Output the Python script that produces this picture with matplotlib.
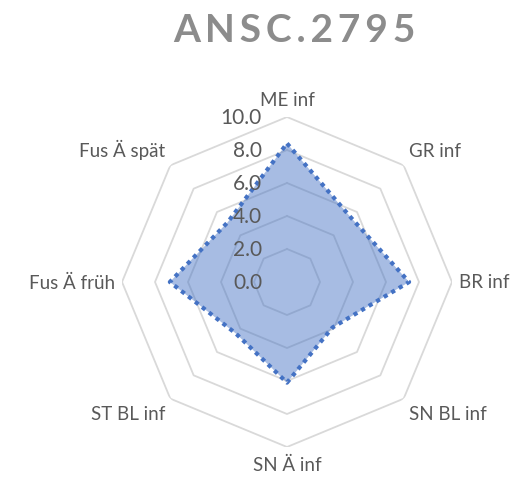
import numpy as np
import matplotlib
matplotlib.use("Agg")
from matplotlib import pyplot as plt
from matplotlib.transforms import ScaledTranslation

# radar values (0..10 scale)
categories = ["ME inf", "GR inf", "BR inf", "SN BL inf",
              "SN Ä inf", "ST BL inf", "Fus Ä früh", "Fus Ä spät"]
values = [8.4, 5.5, 7.4, 3.9, 6.1, 4.4, 7.1, 5.1]
ring_levels = [2, 4, 6, 8, 10]
tick_values = [0, 2, 4, 6, 8, 10]
tick_labels = ["0.0", "2.0", "4.0", "6.0", "8.0", "10.0"]
title = "ANSC.2795"

plt.rcParams['font.family'] = ['Lato', 'DejaVu Sans']
text_col = "#595959"
blue = "#4472C4"

fig = plt.figure(figsize=(5.22, 4.81), dpi=100)

# center of the radar at (287, 283) px, radius 165 px
cx, cy, rad = 287 / 522, 1 - 283 / 481, 165.0
w, h = rad / 522, rad / 481
ax = fig.add_axes([cx - w, cy - h, 2 * w, 2 * h], projection='polar')
ax.set_theta_offset(np.pi / 2)
ax.set_theta_direction(-1)
ax.set_ylim(0, 10)
ax.grid(False)
ax.spines['polar'].set_visible(False)
ax.set_xticks([])
ax.set_yticks([])
ax.patch.set_alpha(0)

n = len(categories)
theta = np.linspace(0, 2 * np.pi, n, endpoint=False)
theta_c = np.append(theta, theta[0])

# octagon grid rings
for lvl in ring_levels:
    ax.plot(theta_c, [lvl] * (n + 1), color="#d9d9d9", lw=1.3, zorder=1)

# data
vals_c = values + values[:1]
ax.fill(theta_c, vals_c, color=blue, alpha=0.47, lw=0, zorder=2)
ax.plot(theta_c, vals_c, color=blue, lw=3.0, linestyle=(0, (1, 1.1)),
        dash_capstyle='butt', zorder=3)

# radial tick labels, left of the vertical axis
for v, lab in zip(tick_values, tick_labels):
    ax.text(0, v, lab, ha='right', va='center', fontsize=15, color=text_col,
            transform=ax.transData + ScaledTranslation(-25 / 100, 0, fig.dpi_scale_trans),
            zorder=4)

# category labels around the outside
for t, lab in zip(theta, categories):
    dx = np.sin(t)
    dy = np.cos(t)
    if abs(dx) < 0.1:
        ha = 'center'
    elif dx > 0:
        ha = 'left'
    else:
        ha = 'right'
    if abs(dy) < 0.1:
        va = 'center'
    elif dy > 0:
        va = 'bottom'
    else:
        va = 'top'
    off = ScaledTranslation(7 * dx / 100, 9 * dy / 100, fig.dpi_scale_trans)
    ax.text(t, 10, lab, ha=ha, va=va, fontsize=13.5, color=text_col,
            transform=ax.transData + off)

# spaced-out title like the spreadsheet chart
fig.text(294 / 522, 1 - 31 / 481, "\u2009".join(title), ha='center', va='center',
         fontsize=28, fontweight='bold', color="#8c8c8c")

fig.savefig("out.png", dpi=100)
